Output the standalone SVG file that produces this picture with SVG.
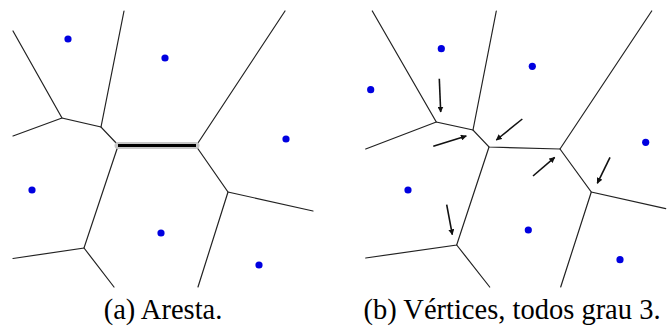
<svg xmlns="http://www.w3.org/2000/svg" width="668" height="329" viewBox="0 0 668 329">
<defs>
<marker id="ah" viewBox="0 0 10 10" refX="9" refY="5" markerWidth="6" markerHeight="6" markerUnits="userSpaceOnUse" orient="auto">
<path d="M0,0 L10,5 L0,10 z" fill="#111"/>
</marker>
<style>
.e{stroke:#222;stroke-width:1.2;fill:none;stroke-linecap:round}
.s{fill:#0000e0}
.a{stroke:#111;stroke-width:1.6;fill:none;marker-end:url(#ah)}
</style>
</defs>
<rect width="668" height="329" fill="#fff"/>
<g id="panel-a">
<g id="edges-a">
<polyline class="e" points="13,31 62,118 101,127 118,145"/>
<line class="e" x1="124" y1="11" x2="101" y2="127"/>
<line class="e" x1="13" y1="136" x2="62" y2="118"/>
<line class="e" x1="196" y1="146" x2="285" y2="11"/>
<polyline class="e" points="118,146 84,248 13,258.5"/>
<line class="e" x1="84" y1="248" x2="114" y2="287"/>
<polyline class="e" points="196,146 228,192 313,211"/>
<line class="e" x1="228" y1="192" x2="198" y2="287"/>
<line x1="118" y1="145.5" x2="196" y2="145.5" stroke="#c8c8c8" stroke-width="7" stroke-linecap="round"/>
<line x1="118" y1="145.5" x2="196" y2="145.5" stroke="#000" stroke-width="3"/>
</g>
<g id="sites-a">
<circle class="s" cx="68" cy="39" r="3.6"/>
<circle class="s" cx="165" cy="58" r="3.6"/>
<circle class="s" cx="286" cy="139" r="3.6"/>
<circle class="s" cx="32" cy="190" r="3.6"/>
<circle class="s" cx="161" cy="233" r="3.6"/>
<circle class="s" cx="259" cy="265" r="3.6"/>
</g>
<text x="163" y="319" font-family="'Liberation Serif', 'DejaVu Serif', serif" font-size="28.5" text-anchor="middle" fill="#000">(a) Aresta.</text>
</g>
<g id="panel-b">
<g id="edges-b">
<polyline class="e" points="372.3,11 436.3,122 473,130 489,147 560,149 651.7,11"/>
<line class="e" x1="496.3" y1="11" x2="473" y2="130"/>
<line class="e" x1="365.7" y1="149" x2="436.3" y2="122"/>
<polyline class="e" points="489,147 456.7,245 365.7,258"/>
<line class="e" x1="456.7" y1="245" x2="489.7" y2="287"/>
<polyline class="e" points="560,149 591.3,192 665.7,208.7"/>
<line class="e" x1="591.3" y1="192" x2="560.7" y2="287"/>
</g>
<g id="sites-b">
<circle class="s" cx="441.3" cy="48.7" r="3.6"/>
<circle class="s" cx="532.3" cy="66.3" r="3.6"/>
<circle class="s" cx="370.7" cy="89.7" r="3.6"/>
<circle class="s" cx="645.7" cy="142.3" r="3.6"/>
<circle class="s" cx="408" cy="190" r="3.6"/>
<circle class="s" cx="528.3" cy="230" r="3.6"/>
<circle class="s" cx="620" cy="259.7" r="3.6"/>
</g>
<g id="arrows-b">
<line class="a" x1="439.3" y1="78.7" x2="440.7" y2="112"/>
<line class="a" x1="433.3" y1="146.3" x2="466.3" y2="136"/>
<line class="a" x1="522.3" y1="119" x2="496.3" y2="140"/>
<line class="a" x1="533" y1="176" x2="554.7" y2="157.3"/>
<line class="a" x1="610" y1="157.3" x2="597.3" y2="183.3"/>
<line class="a" x1="446.7" y1="204.7" x2="452.3" y2="234.7"/>
</g>
<text x="512" y="319" font-family="'Liberation Serif', 'DejaVu Serif', serif" font-size="28.5" text-anchor="middle" fill="#000">(b) Vértices, todos grau 3.</text>
</g>
</svg>
